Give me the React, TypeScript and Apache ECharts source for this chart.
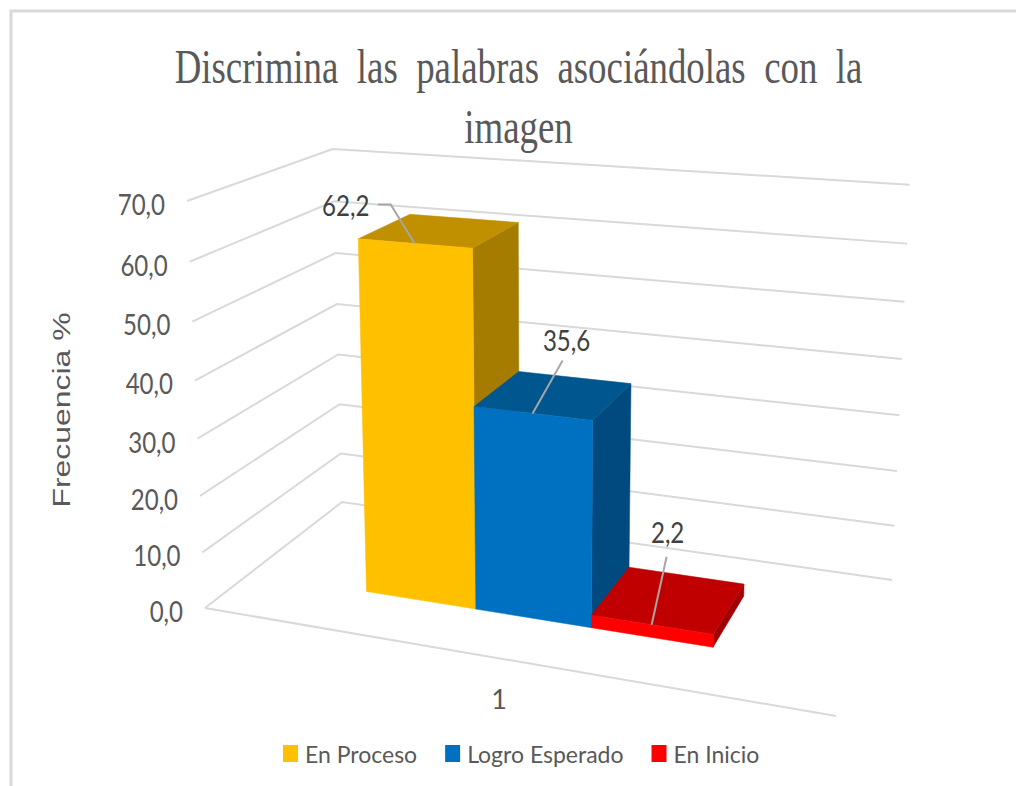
import React, { useEffect, useRef } from "react";
import * as echarts from "echarts";

const categories = ["1"];
const seriesNames = ["En Proceso", "Logro Esperado", "En Inicio"];
const enProceso = [62.2];
const logroEsperado = [35.6];
const enInicio = [2.2];
const dataLabels = ["62,2", "35,6", "2,2"];
const tickValues = [0, 10, 20, 30, 40, 50, 60, 70];
const tickLabels = ["0,0", "10,0", "20,0", "30,0", "40,0", "50,0", "60,0", "70,0"];
const titleLines = "Discrimina  las  palabras  asociándolas  con  la\nimagen";
const yName = "Frecuencia %";

const BODY = 'Lato, "Liberation Sans", sans-serif';

// projection of the 3D box (u across, w into depth, t up) on the page
const project = (u: number, w: number, t: number): number[] => {
  const d = -0.1286 * u + 0.1604 * w + 1 - 0.05 * t;
  return [
    (523.5 * u + 191.9 * w + 205 - 27.35 * t) / d,
    (15.9 * u - 25.5 * w + 608 - 417.05 * t) / d,
  ];
};

const barLayout = [
  { u0: 0.213, u1: 0.404, front: "#FFC000", top: "#C09000", side: "#A67C00", lead: [[-24, -39], [-37, -39]], label: [-69, -38] },
  { u0: 0.404, u1: 0.596, front: "#0070C0", top: "#00568F", side: "#004A80", lead: [[30, -53]], label: [34, -73] },
  { u0: 0.596, u1: 0.788, front: "#FF0000", top: "#C00000", side: "#A00000", lead: [[15, -68]], label: [16, -93] },
];
const W0 = 0.3;
const W1 = 0.7;

function tOf(api: any, v: number) {
  const base = api.coord([0, 0])[1];
  const top = api.coord([0, 70])[1];
  return (base - api.coord([0, v])[1]) / (base - top);
}

function renderBar(index: number) {
  return (_p: any, api: any) => {
    const b = barLayout[index];
    const t = tOf(api, api.value(1));
    const poly = (pts: number[][], fill: string) => ({
      type: "polygon",
      shape: { points: pts },
      style: { fill, stroke: fill, lineWidth: 0.5 },
      silent: true,
    });
    const anchor = project((b.u0 + b.u1) / 2, W0, t);
    const leadPts = [anchor, ...b.lead.map((o) => [anchor[0] + o[0], anchor[1] + o[1]])];
    return {
      type: "group",
      children: [
        poly([project(b.u1, W0, 0), project(b.u1, W1, 0), project(b.u1, W1, t), project(b.u1, W0, t)], b.side),
        poly([project(b.u0, W0, t), project(b.u1, W0, t), project(b.u1, W1, t), project(b.u0, W1, t)], b.top),
        poly([project(b.u0, W0, 0), project(b.u1, W0, 0), project(b.u1, W0, t), project(b.u0, W0, t)], b.front),
        {
          type: "polyline",
          shape: { points: leadPts },
          style: { stroke: "#A6A6A6", lineWidth: 2, fill: "none" },
          silent: true,
        },
        {
          type: "text",
          x: anchor[0] + b.label[0],
          y: anchor[1] + b.label[1],
          scaleX: 0.83,
          silent: true,
          style: {
            text: dataLabels[index],
            fill: "#404040",
            font: `29px ${BODY}`,
            align: "center",
            verticalAlign: "middle",
          },
        },
      ],
    };
  };
}

function renderWall(_p: any, api: any) {
  const v = api.value(1);
  const t = tOf(api, v);
  const idx = tickValues.indexOf(v);
  const p0 = project(0, 0, t);
  const children: any[] = [
    {
      type: "polyline",
      shape: { points: [p0, project(0, 1, t), project(1, 1, t)] },
      style: { stroke: "#D9D9D9", lineWidth: 2, fill: "none" },
      silent: true,
    },
    {
      type: "text",
      x: p0[0] - 22,
      y: p0[1] + 3,
      scaleX: 0.83,
      silent: true,
      style: {
        text: tickLabels[idx],
        fill: "#595959",
        font: `29px ${BODY}`,
        align: "right",
        verticalAlign: "middle",
      },
    },
  ];
  if (v === 0) {
    children.push({
      type: "line",
      shape: { x1: p0[0], y1: p0[1], x2: project(1, 0, 0)[0], y2: project(1, 0, 0)[1] },
      style: { stroke: "#D9D9D9", lineWidth: 2 },
      silent: true,
    });
  }
  return { type: "group", children };
}

export default function App() {
  const ref = useRef<HTMLDivElement>(null);
  useEffect(() => {
    if (!ref.current) return;
    const chart = echarts.init(ref.current, null, { renderer: "svg" });
    const barSeries = [enProceso, logroEsperado, enInicio].map((vals, i) => ({
      type: "custom" as const,
      name: seriesNames[i],
      renderItem: renderBar(i),
      clip: false,
      itemStyle: { color: barLayout[i].front },
      encode: { x: 0, y: 1 },
      data: vals.map((v, k) => [k, v]),
    }));
    chart.setOption({
      animation: false,
      backgroundColor: "#FFFFFF",
      grid: { left: 205, width: 588, top: 207, height: 406 },
      xAxis: {
        type: "category",
        data: categories,
        axisLine: { show: false },
        axisTick: { show: false },
        axisLabel: { margin: 72, color: "#595959", fontSize: 27, fontFamily: BODY },
      },
      yAxis: {
        type: "value",
        min: 0,
        max: 70,
        interval: 10,
        axisLine: { show: false },
        axisTick: { show: false },
        axisLabel: { show: false },
        splitLine: { show: false },
      },
      legend: {
        left: 278,
        top: 737,
        icon: "rect",
        itemWidth: 15,
        itemHeight: 17,
        itemGap: 28,
        data: seriesNames,
        textStyle: { color: "#595959", fontSize: 23, fontFamily: BODY, padding: [0, 0, 0, 2] },
      },
      graphic: [
        {
          type: "rect",
          shape: { x: 11, y: 11, width: 1100, height: 900 },
          style: { fill: "none", stroke: "#D9D9D9", lineWidth: 3 },
          silent: true,
        },
        {
          type: "text",
          x: 518.5,
          y: 36,
          scaleX: 0.97,
          scaleY: 1.3,
          silent: true,
          style: {
            text: titleLines,
            fill: "#595959",
            font: '38px "Liberation Serif", serif',
            align: "center",
            verticalAlign: "top",
            lineHeight: 46,
          },
        },
        {
          type: "text",
          x: 62,
          y: 410,
          rotation: Math.PI / 2,
          scaleX: 1.33,
          silent: true,
          style: {
            text: yName,
            fill: "#595959",
            font: '24px "Liberation Sans", sans-serif',
            align: "center",
            verticalAlign: "middle",
          },
        },
      ],
      series: [
        {
          type: "custom",
          name: "walls",
          renderItem: renderWall,
          clip: false,
          silent: true,
          encode: { x: 0, y: 1 },
          data: tickValues.map((v) => [0, v]),
        },
        ...barSeries,
      ],
    });
    return () => chart.dispose();
  }, []);
  return <div ref={ref} style={{ position: "absolute", left: 0, top: 0, width: 1016, height: 786 }} />;
}
